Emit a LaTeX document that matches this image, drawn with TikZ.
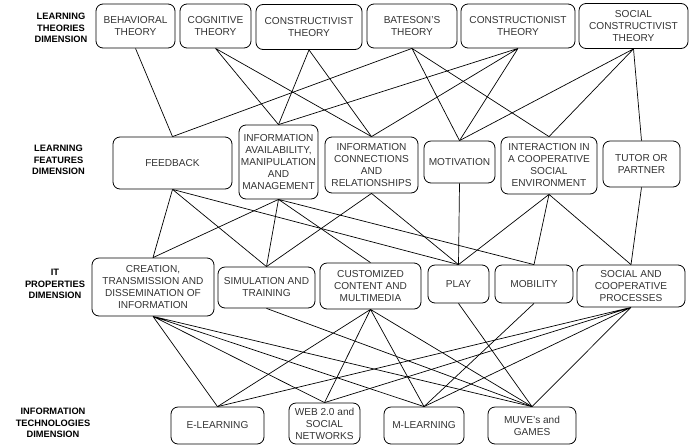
\documentclass[tikz,border=0pt]{standalone}
\usepackage{fontspec}
\setmainfont{Liberation Sans}
\usepackage{tikz}

\tikzset{
  box/.style={draw, rounded corners=7pt, align=center, inner sep=1pt, line width=0.8pt,
    text=black!80, font=\fontsize{10.1}{12}\selectfont},
  dimlabel/.style={align=center, font=\fontsize{9.3}{11.5}\selectfont\bfseries},
  link/.style={line width=0.7pt}
}

\begin{document}
\begin{tikzpicture}[x=1pt,y=-1pt]
\useasboundingbox (0,0) rectangle (690,445);
\node[dimlabel] (dimthe) at (61,28) {LEARNING\\THEORIES\\DIMENSION};
\node[dimlabel] (dimfea) at (58.5,160) {LEARNING\\FEATURES\\DIMENSION};
\node[dimlabel] (dimit) at (55,284) {IT\\PROPERTIES\\DIMENSION};
\node[dimlabel] (diminf) at (53,423) {INFORMATION\\TECHNOLOGIES\\DIMENSION};
% theories
\node[box,minimum width=79pt,minimum height=44pt] (beh) at (135.5,26) {BEHAVIORAL\\THEORY};
\node[box,minimum width=71pt,minimum height=44pt] (cog) at (215.5,26) {COGNITIVE\\THEORY};
\node[box,minimum width=106pt,minimum height=45pt] (ctv) at (309,27) {CONSTRUCTIVIST\\THEORY};
\node[box,minimum width=90pt,minimum height=44pt] (bat) at (412,26) {BATESON'S\\THEORY};
\node[box,minimum width=114pt,minimum height=44pt] (ctn) at (518,26) {CONSTRUCTIONIST\\THEORY};
\node[box,minimum width=109pt,minimum height=45pt] (soc) at (633.5,26) {SOCIAL\\CONSTRUCTIVIST\\THEORY};
% features
\node[box,minimum width=119pt,minimum height=52pt] (fb) at (172.5,163) {FEEDBACK};
\node[box,minimum width=79pt,minimum height=74pt] (ava) at (278.5,162) {INFORMATION\\AVAILABILITY,\\MANIPULATION\\AND\\MANAGEMENT};
\node[box,minimum width=93pt,minimum height=56pt] (con) at (371.5,165) {INFORMATION\\CONNECTIONS\\AND\\RELATIONSHIPS};
\node[box,minimum width=71pt,minimum height=42pt] (mot) at (459.5,162) {MOTIVATION};
\node[box,minimum width=96pt,minimum height=57pt] (int) at (549,165.5) {INTERACTION IN\\A COOPERATIVE\\SOCIAL\\ENVIRONMENT};
\node[box,minimum width=77pt,minimum height=46pt] (tut) at (641.5,164) {TUTOR OR\\PARTNER};
% it properties
\node[box,minimum width=122pt,minimum height=58pt] (cre) at (153,287) {CREATION,\\TRANSMISSION AND\\DISSEMINATION OF\\INFORMATION};
\node[box,minimum width=97pt,minimum height=41pt] (sim) at (266.5,287.5) {SIMULATION AND\\TRAINING};
\node[box,minimum width=101pt,minimum height=46pt] (cus) at (370.5,286) {CUSTOMIZED\\CONTENT AND\\MULTIMEDIA};
\node[box,minimum width=61pt,minimum height=38pt] (pla) at (458.5,284) {PLAY};
\node[box,minimum width=78pt,minimum height=38pt] (mob) at (534,284) {MOBILITY};
\node[box,minimum width=108pt,minimum height=42pt] (scp) at (631,286) {SOCIAL AND\\COOPERATIVE\\PROCESSES};
% technologies
\node[box,minimum width=93pt,minimum height=37pt] (ele) at (217.5,425.5) {E-LEARNING};
\node[box,minimum width=71pt,minimum height=41pt] (web) at (324.5,423.5) {WEB 2.0 and\\SOCIAL\\NETWORKS};
\node[box,minimum width=80pt,minimum height=37pt] (mle) at (424,425.5) {M-LEARNING};
\node[box,minimum width=88pt,minimum height=37pt] (muv) at (532,425.5) {MUVE's and\\GAMES};

\draw[link] (beh.south) -- (fb.north);
\draw[link] (cog.south) -- (ava.north) (cog.south) -- (con.north);
\draw[link] (ctv.south) -- (ava.north) (ctv.south) -- (con.north);
\draw[link] (bat.south) -- (fb.north) (bat.south) -- (mot.north) (bat.south) -- (int.north);
\draw[link] (ctn.south) -- (ava.north) (ctn.south) -- (con.north) (ctn.south) -- (mot.north);
\draw[link] (soc.south) -- (mot.north) (soc.south) -- (int.north) (soc.south) -- (tut.north);

\draw[link] (fb.south) -- (cre.north) (fb.south) -- (sim.north) (fb.south) -- (pla.north);
\draw[link] (ava.south) -- (cre.north) (ava.south) -- (sim.north) (ava.south) -- (cus.north) (ava.south) -- (mob.north);
\draw[link] (con.south) -- (sim.north) (con.south) -- (pla.north);
\draw[link] (mot.south) -- (pla.north);
\draw[link] (int.south) -- (pla.north) (int.south) -- (mob.north) (int.south) -- (scp.north);
\draw[link] (tut.south) -- (scp.north);

\draw[link] (cre.south) -- (ele.north) (cre.south) -- (web.north) (cre.south) -- (mle.north) (cre.south) -- (muv.north);
\draw[link] (sim.south) -- (muv.north);
\draw[link] (cus.south) -- (ele.north) (cus.south) -- (web.north) (cus.south) -- (mle.north) (cus.south) -- (muv.north);
\draw[link] (pla.south) -- (muv.north);
\draw[link] (mob.south) -- (mle.north);
\draw[link] (scp.south) -- (ele.north) (scp.south) -- (web.north) (scp.south) -- (mle.north) (scp.south) -- (muv.north);
\end{tikzpicture}
\end{document}
